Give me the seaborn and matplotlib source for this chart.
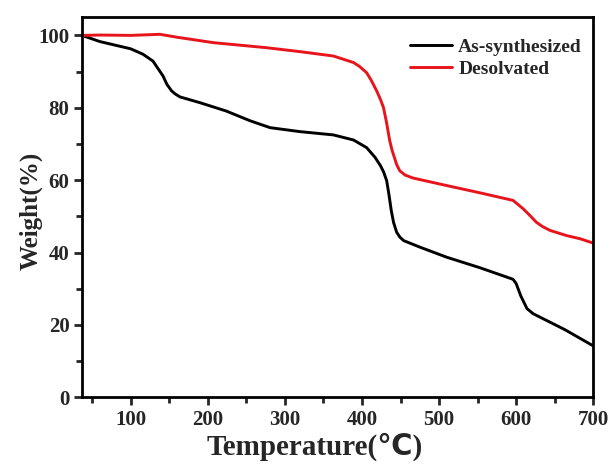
import numpy as np
import matplotlib as mpl
mpl.use('Agg')

import matplotlib.pyplot as plt
from matplotlib.ticker import MultipleLocator
import seaborn as sns
import pandas as pd

# TGA curves
temp_as = [37, 60, 80, 100, 116, 129, 135, 142, 147, 153, 158, 164, 190, 224, 255, 281, 320, 363, 389,
           406, 417, 424, 428, 432, 435, 438, 441, 445, 449, 454, 475, 510, 553, 596, 600, 606, 614, 622, 663, 700]
weight_as = [100, 98.3, 97.3, 96.3, 94.8, 92.9, 91.0, 88.8, 86.5, 84.7, 83.8, 83.0, 81.4, 79.1, 76.4, 74.5, 73.4, 72.5, 71.1,
             69.0, 66.3, 64.0, 62.3, 59.9, 56.0, 51.6, 48.3, 45.6, 44.3, 43.3, 41.5, 38.7, 35.8, 32.6, 31.4, 28.0, 24.5, 23.1, 18.7, 14.2]

temp_de = [37, 60, 100, 138, 160, 207, 276, 320, 363, 389, 397, 406, 412, 419, 424, 428, 432, 436, 439, 442, 445, 449,
           456, 466, 510, 553, 596, 609, 618, 626, 634, 644, 665, 683, 700]
weight_de = [100, 100.1, 100.0, 100.3, 99.5, 98.0, 96.6, 95.5, 94.3, 92.5, 91.4, 89.7, 87.6, 84.7, 82.3, 80.0, 75.8, 70.9, 68.3, 66.3, 64.3, 62.6,
             61.4, 60.6, 58.5, 56.5, 54.4, 52.1, 50.2, 48.4, 47.2, 46.1, 44.7, 43.8, 42.6]

labels = ["As-synthesized", "Desolvated"]
colors = ["black", "#e8141b"]

df = pd.concat([
    pd.DataFrame({"Temperature": temp_as, "Weight": weight_as, "Sample": labels[0]}),
    pd.DataFrame({"Temperature": temp_de, "Weight": weight_de, "Sample": labels[1]}),
])

sns.set_style("ticks")
plt.rcParams['font.family'] = ['Liberation Serif', 'DejaVu Sans']
plt.rcParams['font.weight'] = 'bold'

fig = plt.figure(figsize=(6.14, 4.65), dpi=100)
ax = fig.add_axes([0.1336, 0.1456, 0.8327, 0.8172])

sns.lineplot(data=df, x="Temperature", y="Weight", hue="Sample", palette=colors,
             linewidth=2.1, sort=False, ax=ax)

ax.set_xlim(37, 700)
ax.set_ylim(0, 105)
ax.xaxis.set_major_locator(MultipleLocator(100))
ax.xaxis.set_minor_locator(MultipleLocator(50))
ax.yaxis.set_major_locator(MultipleLocator(20))
ax.yaxis.set_minor_locator(MultipleLocator(10))
ax.tick_params(which='major', direction='out', length=6, width=2, labelsize=15, top=False, right=False, pad=3)
ax.tick_params(which='minor', direction='out', length=4, width=2, top=False, right=False)
for lab in ax.get_xticklabels() + ax.get_yticklabels():
    lab.set_fontweight('bold')
for s in ax.spines.values():
    s.set_linewidth(2)
    s.set_color('black')

ax.set_xlabel("Temperature(℃)", fontsize=21, weight='bold')
ax.set_ylabel("Weight(%)", fontsize=18, weight='bold')
ax.xaxis.set_label_coords(0.455, -0.092)
ax.yaxis.set_label_coords(-0.078, 0.49)

leg = ax.legend(loc='upper right', frameon=False, handlelength=2.2, fontsize=14,
                bbox_to_anchor=(1.012, 0.99), labelspacing=0.2, handletextpad=0.3)
for t in leg.get_texts():
    t.set_fontweight('bold')

plt.savefig('out.png', dpi=100)
plt.close()
